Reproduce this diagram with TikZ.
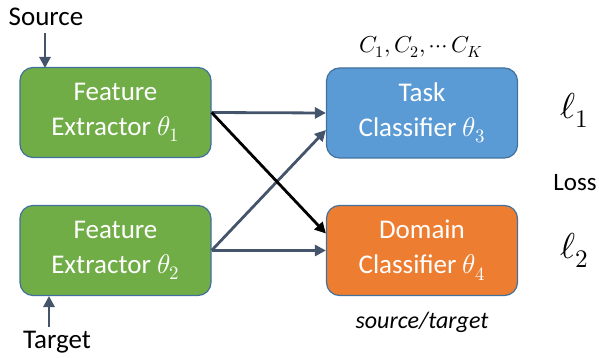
\documentclass[tikz,border=0pt]{standalone}
\usepackage{fontspec}
\usepackage{unicode-math}
\setmainfont{Carlito}
\setmathfont{Latin Modern Math}
\usetikzlibrary{arrows.meta}
\definecolor{featgreen}{HTML}{70AD47}
\definecolor{taskblue}{HTML}{5B9BD5}
\definecolor{domorange}{HTML}{ED7D31}
\definecolor{edgeblue}{HTML}{41719C}
\definecolor{arrslate}{HTML}{44546A}
\begin{document}
\begin{tikzpicture}[x=1pt,y=-1pt,
		block/.style={draw=edgeblue, line width=1.2pt, rounded corners=13pt,
			minimum width=191pt, minimum height=90pt, align=center,
			text=white, font=\fontsize{27}{35}\selectfont},
		arr/.style={draw=arrslate, line width=2.8pt, -{Triangle[length=11pt,width=11pt]}},
		lbl/.style={font=\fontsize{27}{30}\selectfont}]
			\useasboundingbox (0,0) rectangle (599,358);
			% boxes
			\node[block, fill=featgreen] (fa) at (115.5,112.5) {Feature\\Extractor $\theta_1$};
			\node[block, fill=featgreen] (fb) at (115.5,250.5) {Feature\\Extractor $\theta_2$};
			\node[block, fill=taskblue] (task) at (422,113) {Task\\Classifier $\theta_3$};
			\node[block, fill=domorange] (dom) at (422,250.5) {Domain\\Classifier $\theta_4$};
			% labels
			\node[lbl] (src) at (46,17) {Source};
			\node[lbl] (tgt) at (57,342) {Target};
			\node[font=\fontsize{23}{26}\selectfont] (cls) at (421,47) {$C_1, C_2, \cdots C_K$};
			\node[font=\itshape\fontsize{24}{26}\selectfont] (dl) at (422,322) {source/target};
			\node[font=\fontsize{25}{28}\selectfont] (loss) at (575,183) {Loss};
			\foreach \n/\y in {1/110, 2/250}{
				\node[font=\fontsize{36}{38}\selectfont] (l\n) at (575,\y) {$\ell_\n$};
			}
			% connectors
			\draw[arr] (45,33) -- (45,68);
			\draw[arr] (49,327) -- (49,296);
			\draw[arr] (fa.east) -- (task.west);
			\draw[arr] (fb.east) -- (dom.west);
			\draw[arr] (fb.east) -- ([yshift=-17pt]task.west);
			\draw[arr, draw=black] (fa.east) -- ([yshift=17pt]dom.west);
		\end{tikzpicture}
\end{document}
